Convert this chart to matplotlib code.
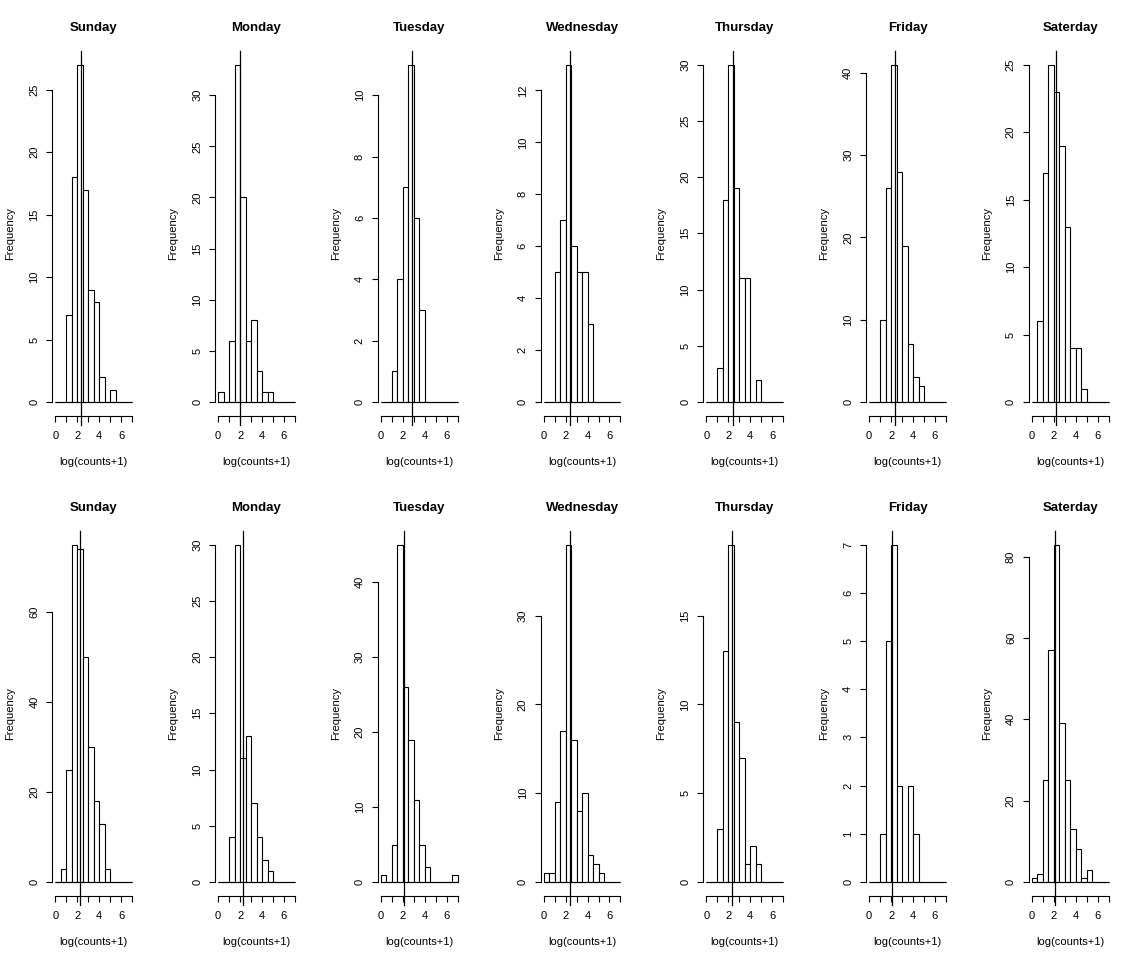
import numpy as np
import matplotlib
matplotlib.use('Agg')
import matplotlib.pyplot as plt

plt.rcParams['font.family'] = ['Liberation Sans', 'DejaVu Sans']

days = ['Sunday', 'Monday', 'Tuesday', 'Wednesday', 'Thursday', 'Friday', 'Saterday']

# histogram breaks, log(counts+1)
breaks = [0, 0.5, 1, 1.5, 2, 2.5, 3, 3.5, 4, 4.5, 5, 5.5, 6, 6.5, 7]

# first row of panels
counts_top = [
    [0, 0, 7, 18, 27, 17, 9, 8, 2, 0, 1, 0, 0, 0],
    [1, 0, 6, 33, 20, 6, 8, 3, 1, 1, 0, 0, 0, 0],
    [0, 0, 1, 4, 7, 11, 6, 3, 0, 0, 0, 0, 0, 0],
    [0, 0, 5, 7, 13, 6, 5, 5, 3, 0, 0, 0, 0, 0],
    [0, 0, 3, 18, 30, 19, 11, 11, 0, 2, 0, 0, 0, 0],
    [0, 0, 10, 26, 41, 28, 19, 7, 3, 2, 0, 0, 0, 0],
    [0, 6, 17, 25, 23, 19, 13, 4, 4, 1, 0, 0, 0, 0],
]
means_top = [2.37, 1.98, 2.8, 2.37, 2.43, 2.37, 2.19]
ystep_top = [5, 5, 2, 2, 5, 10, 5]

# second row of panels
counts_bottom = [
    [0, 3, 25, 75, 74, 50, 30, 18, 13, 3, 0, 0, 0, 0],
    [0, 0, 4, 30, 11, 13, 7, 4, 2, 1, 0, 0, 0, 0],
    [1, 0, 5, 45, 26, 19, 11, 5, 2, 0, 0, 0, 0, 1],
    [1, 1, 9, 17, 38, 16, 8, 10, 3, 2, 1, 0, 0, 0],
    [0, 0, 3, 13, 19, 9, 7, 1, 2, 1, 0, 0, 0, 0],
    [0, 0, 1, 5, 7, 2, 0, 2, 1, 0, 0, 0, 0, 0],
    [1, 2, 25, 57, 83, 39, 25, 13, 8, 1, 3, 0, 0, 0],
]
means_bottom = [2.25, 2.25, 2.07, 2.37, 2.37, 2.05, 2.15]
ystep_bottom = [20, 5, 10, 10, 5, 1, 20]

W, H = 1139, 961
fig = plt.figure(figsize=(W / 100, H / 100), dpi=100)


def draw_hist(ax, day, counts, mean, ystep):
    left = breaks[:-1]
    widths = np.diff(breaks)
    # empty bins are drawn too, like R does, so the bottom edges make one line
    ax.hlines(0, breaks[0], breaks[-1], color='black', linewidth=0.8)
    ax.bar(left, counts, width=widths, align='edge', facecolor='white',
           edgecolor='black', linewidth=0.8)
    ax.axvline(mean, ymin=-0.027, ymax=1, color='black', linewidth=0.9, clip_on=False)

    top = max(counts)
    ax.set_xlim(-0.28, 7.28)
    ax.set_ylim(-0.04 * top, 1.04 * top)

    yt = np.arange(0, top + 0.001, ystep)
    ax.set_yticks(yt)
    ax.set_yticklabels([str(int(v)) for v in yt])
    ax.set_xticks(range(8))
    ax.set_xticklabels(['0', '', '2', '', '4', '', '6', ''])

    for s in ['top', 'right']:
        ax.spines[s].set_visible(False)
    ax.spines['left'].set_bounds(0, yt[-1])
    ax.spines['bottom'].set_bounds(0, 7)
    ax.spines['left'].set_linewidth(0.8)
    ax.spines['bottom'].set_linewidth(0.8)

    ax.tick_params(axis='both', direction='out', length=4.3, width=0.8, labelsize=8)
    ax.tick_params(axis='x', pad=7)
    ax.tick_params(axis='y', pad=5, labelrotation=90)
    for lab in ax.get_yticklabels():
        lab.set_va('center')

    ax.text(0.5, 1.062, day, transform=ax.transAxes, ha='center', va='center',
            fontsize=9.5, fontweight='bold')
    ax.text(0.5, -0.1276, 'log(counts+1)', transform=ax.transAxes,
            ha='center', va='center', fontsize=8)
    ax.text(-0.504, 0.5, 'Frequency', transform=ax.transAxes, rotation=90,
            ha='center', va='center', fontsize=8)


rows = [(counts_top, means_top, ystep_top), (counts_bottom, means_bottom, ystep_bottom)]
for r, (cnts, mns, steps) in enumerate(rows):
    for c in range(7):
        left = (52.3 + 162.75 * c) / W
        bottom = (H - (415.5 + 480 * r)) / H
        ax = fig.add_axes([left, bottom, 83 / W, 364.5 / H])
        draw_hist(ax, days[c], cnts[c], mns[c], steps[c])

fig.savefig('out.png', dpi=100, facecolor='white')
